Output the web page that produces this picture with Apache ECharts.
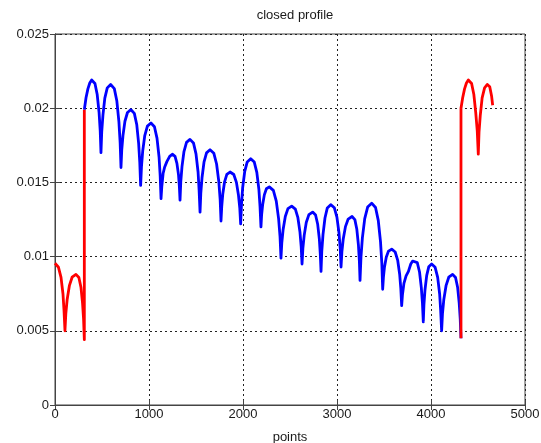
<!DOCTYPE html>
<html>
<head>
<meta charset="utf-8">
<script src="https://cdn.jsdelivr.net/npm/echarts@6/dist/echarts.min.js"></script>
<style>
  html, body { margin: 0; padding: 0; background: #fff; }
  #chart { width: 541px; height: 443px; }
</style>
</head>
<body>
<div id="chart"></div>
<script>
// Axis ticks
const xTicks = [0, 1000, 2000, 3000, 4000, 5000];
const yTicks = [0, 0.005, 0.01, 0.015, 0.02, 0.025];

// Main profile (blue), [point index, height]
const mainProfile = [
  [312,0.0199],[330,0.0207],[350,0.0213],[370,0.0217],[390,0.0219],
  [425,0.02166],[449,0.02092],[469,0.0197],[481,0.01847],[489,0.0170],
  [497,0.01838],[510,0.01953],[530,0.02068],[556,0.02137],[592,0.0216],
  [631,0.02132],[658,0.02048],[680,0.01908],[693,0.01768],[702,0.0160],
  [710,0.01717],[723,0.01815],[744,0.01912],[771,0.01971],[808,0.0199],
  [844,0.01965],[870,0.01888],[890,0.01761],[902,0.01633],[911,0.0148],
  [920,0.01606],[933,0.01711],[955,0.01816],[983,0.01879],[1021,0.0190],
  [1058,0.01875],[1085,0.01798],[1107,0.01671],[1119,0.01543],[1128,0.0139],
  [1136,0.0147],[1150,0.0156],[1165,0.0160],[1190,0.0164],[1220,0.01675],[1248,0.0169],
  [1277,0.01675],[1297,0.01628],[1314,0.01551],[1323,0.01473],[1330,0.0138],
  [1338,0.01503],[1351,0.01606],[1372,0.01708],[1399,0.0177],[1436,0.0179],
  [1473,0.01766],[1500,0.01692],[1522,0.0157],[1533,0.01447],[1543,0.0130],
  [1551,0.01426],[1564,0.01531],[1585,0.01636],[1612,0.01699],[1649,0.0172],
  [1690,0.01696],[1719,0.01624],[1743,0.01504],[1757,0.01384],[1766,0.0124],
  [1774,0.01339],[1785,0.01422],[1804,0.01504],[1828,0.01554],[1862,0.0157],
  [1902,0.01553],[1930,0.0150],[1952,0.01413],[1966,0.01325],[1975,0.0122],
  [1984,0.01352],[1996,0.01462],[2018,0.01572],[2045,0.01638],[2082,0.0166],
  [2120,0.01637],[2147,0.01568],[2169,0.01453],[2181,0.01338],[2191,0.0120],
  [2198,0.01281],[2209,0.01349],[2227,0.01416],[2249,0.01457],[2280,0.0147],
  [2323,0.01446],[2354,0.01374],[2379,0.01254],[2394,0.01134],[2404,0.0099],
  [2413,0.01095],[2427,0.01183],[2450,0.0127],[2478,0.01323],[2518,0.0134],
  [2557,0.0132],[2584,0.01262],[2606,0.01165],[2619,0.01067],[2628,0.0095],
  [2637,0.01055],[2651,0.01143],[2673,0.0123],[2701,0.01283],[2741,0.0130],
  [2772,0.0128],[2794,0.0122],[2812,0.0112],[2822,0.0102],[2830,0.0090],
  [2838,0.01035],[2851,0.01148],[2872,0.0126],[2897,0.01328],[2933,0.0135],
  [2972,0.01329],[2999,0.01266],[3021,0.01161],[3034,0.01056],[3043,0.0093],
  [3052,0.01032],[3066,0.01117],[3090,0.01202],[3119,0.01253],[3160,0.0127],
  [3190,0.01249],[3211,0.01184],[3228,0.01077],[3238,0.00969],[3245,0.0084],
  [3255,0.00996],[3270,0.01126],[3295,0.01256],[3326,0.01334],[3369,0.0136],
  [3410,0.01331],[3439,0.01244],[3463,0.01099],[3477,0.00954],[3486,0.0078],
  [3494,0.00861],[3505,0.00929],[3524,0.00996],[3548,0.01037],[3582,0.0105],
  [3619,0.01031],[3646,0.00974],[3667,0.00879],[3679,0.00784],[3688,0.0067],
  [3696,0.0074],[3712,0.0082],[3735,0.0087],[3760,0.0090],[3785,0.0095],[3805,0.0097],[3819,0.0098],
  [3854,0.00959],[3878,0.00896],[3897,0.00791],[3909,0.00686],[3918,0.0056],
  [3925,0.00677],[3936,0.00775],[3954,0.00872],[3976,0.00931],[4007,0.0095],
  [4044,0.00928],[4071,0.0086],[4092,0.00748],[4103,0.00635],[4113,0.0050],
  [4122,0.00614],[4136,0.00709],[4160,0.00804],[4189,0.00861],[4230,0.0088],
  [4261,0.00859],[4283,0.00794],[4300,0.00687],[4311,0.00579],[4319,0.0045]
];

// Wrapped tail before the start (red)
const leadWrap = [
  [0,0.00955],[37,0.00928],[64,0.0086],[85,0.00748],[96,0.00635],[106,0.0050],
  [115,0.00614],[129,0.00709],[153,0.00804],[182,0.00861],[223,0.0088],
  [254,0.00859],[276,0.00794],[293,0.00687],[304,0.00579],[312,0.0044],
  [312,0.0199]
];

// Wrapped head after the end (red)
const trailWrap = [
  [4319,0.0045],[4319,0.0200],[4337,0.0207],[4357,0.0213],[4377,0.0217],[4397,0.0219],
  [4432,0.02166],[4456,0.02092],[4476,0.0197],[4492,0.01847],[4503,0.0169],
  [4511,0.0184],[4524,0.0195],[4544,0.0207],[4570,0.02137],[4599,0.0216],
  [4625,0.02145],[4645,0.0208],[4656,0.0202]
];

const FONT = 'Liberation Sans';
const TXT = '#1a1a1a';
const AXIS = '#444';

const chart = echarts.init(document.getElementById('chart'), null, { renderer: 'canvas' });

const gridLine = { show: true, lineStyle: { color: '#222', type: [2, 3], width: 1 } };

chart.setOption({
  animation: false,
  backgroundColor: '#fff',
  title: {
    text: 'closed profile',
    left: 290, top: 4, textAlign: 'center',
    textStyle: { fontFamily: FONT, fontSize: 13, fontWeight: 'normal', color: TXT }
  },
  grid: {
    left: 55, right: 16, top: 34, bottom: 38,
    containLabel: false, outerBoundsMode: 'none',
    show: true, borderColor: AXIS, borderWidth: 1
  },
  xAxis: [{
    type: 'value', min: xTicks[0], max: xTicks[xTicks.length - 1], interval: 1000,
    name: 'points', nameLocation: 'middle', nameGap: 26,
    nameTextStyle: { fontFamily: FONT, fontSize: 13, color: TXT },
    axisLine: { show: true, lineStyle: { color: AXIS } },
    axisTick: { show: true, inside: true, length: 5, lineStyle: { color: AXIS } },
    axisLabel: { fontFamily: FONT, fontSize: 13, color: TXT, margin: 3, formatter: v => String(v) },
    splitLine: gridLine
  }, {
    type: 'value', position: 'top', min: xTicks[0], max: xTicks[xTicks.length - 1], interval: 1000,
    axisLine: { show: true, lineStyle: { color: AXIS } },
    axisTick: { show: true, inside: true, length: 5, lineStyle: { color: AXIS } },
    axisLabel: { show: false }, splitLine: { show: false }
  }],
  yAxis: [{
    type: 'value', min: yTicks[0], max: yTicks[yTicks.length - 1], interval: 0.005,
    axisLine: { show: true, lineStyle: { color: AXIS } },
    axisTick: { show: true, inside: true, length: 5, lineStyle: { color: AXIS } },
    axisLabel: { fontFamily: FONT, fontSize: 13, color: TXT, margin: 6, formatter: v => String(v) },
    splitLine: gridLine
  }, {
    type: 'value', position: 'right', min: yTicks[0], max: yTicks[yTicks.length - 1], interval: 0.005,
    axisLine: { show: true, lineStyle: { color: AXIS } },
    axisTick: { show: true, inside: true, length: 5, lineStyle: { color: AXIS } },
    axisLabel: { show: false }, splitLine: { show: false }
  }],
  series: [
    { type: 'line', data: mainProfile, showSymbol: false, symbol: 'none',
      lineStyle: { color: '#0000ff', width: 2.8, join: 'round' }, z: 3 },
    { type: 'line', data: leadWrap, showSymbol: false, symbol: 'none',
      lineStyle: { color: '#ff0000', width: 2.8, join: 'round' }, z: 4 },
    { type: 'line', data: trailWrap, showSymbol: false, symbol: 'none',
      lineStyle: { color: '#ff0000', width: 2.8, join: 'round' }, z: 4 }
  ]
});
</script>
</body>
</html>
